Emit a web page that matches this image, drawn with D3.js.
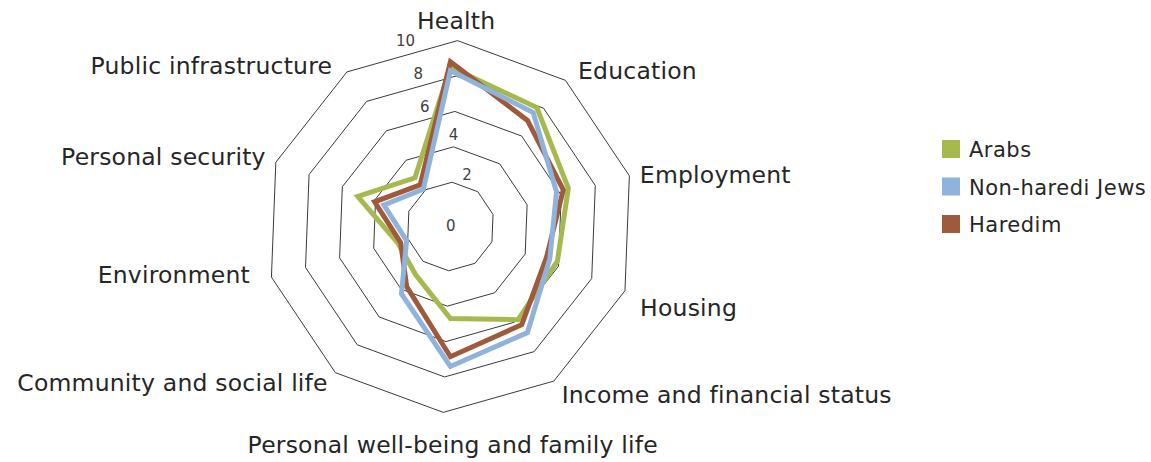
<!DOCTYPE html>
<html>
<head>
<meta charset="utf-8">
<script src="https://cdn.jsdelivr.net/npm/d3@7"></script>
<style>
  body { margin: 0; background: #fff; }
  text { font-family: "DejaVu Sans", "Noto Sans", sans-serif; fill: #262626; }
</style>
</head>
<body>
<script>
const categories = ["Health", "Education", "Employment", "Housing", "Income and financial status",
  "Personal well-being and family life", "Community and social life", "Environment",
  "Personal security", "Public infrastructure"]
const arabs =         [8.5, 7.8, 6.5, 5.85, 6.0, 4.7, 2.85, 2.6, 5.0, 2.9]
const nonHarediJews = [8.3, 7.45, 5.8, 5.4, 6.9, 7.4, 4.2, 2.1, 3.45, 2.1]
const haredim =       [8.8, 6.9, 6.2, 5.2, 6.35, 6.85, 3.7, 2.45, 4.0, 2.4]
const seriesNames = ["Arabs", "Non-haredi Jews", "Haredim"]
const ticks = [0, 2, 4, 6, 8, 10]

const colors = { "Arabs": "#a6b94f", "Non-haredi Jews": "#8fb3dc", "Haredim": "#9e5a3a" }

const width = 1151, height = 462
const cx = 450.4, cy = 226.5, R = 186
const gridTilt = 2.2 * Math.PI / 180

const svg = d3.select("body").append("svg")
  .attr("width", width).attr("height", height)

const g = svg.append("g").attr("transform", `translate(${cx},${cy})`)

const r = d3.scaleLinear().domain([-0.5, 10]).range([0, R])
const angle = d3.scaleLinear().domain([0, categories.length]).range([0, 2 * Math.PI])

// grid rings
const ring = d3.lineRadial()
  .angle((d, i) => angle(i) + gridTilt)
  .radius(d => r(d))
  .curve(d3.curveLinearClosed)

g.selectAll("path.grid")
  .data(ticks.filter(t => t > 0))
  .enter()
    .append("path")
    .attr("class", "grid")
    .attr("d", t => ring(categories.map(() => t)))
    .attr("fill", "none")
    .attr("stroke", "#3a3a3a")
    .attr("stroke-width", 1)

// tick labels (nudged like the original)
const tickNudge = [[0, 8], [15, -7], [0, -12], [-30, -4], [-38, -2], [-52, 0]]
g.selectAll("text.tick")
  .data(ticks)
  .enter()
    .append("text")
    .attr("class", "tick")
    .attr("x", (d, i) => r(d) * Math.sin(gridTilt) + tickNudge[i][0])
    .attr("y", (d, i) => -r(d) * Math.cos(gridTilt) + tickNudge[i][1])
    .attr("text-anchor", "middle")
    .attr("dominant-baseline", "central")
    .attr("font-size", 15)
    .style("fill", "#404040")
    .text(d => d)

// series
const line = d3.lineRadial()
  .angle((d, i) => angle(i))
  .radius(d => r(d))
  .curve(d3.curveLinearClosed)

const seriesData = { "Arabs": arabs, "Non-haredi Jews": nonHarediJews, "Haredim": haredim }
const drawOrder = ["Arabs", "Haredim", "Non-haredi Jews"]

g.selectAll("path.series")
  .data(drawOrder)
  .enter()
    .append("path")
    .attr("class", "series")
    .attr("d", s => line(seriesData[s]))
    .attr("fill", "none")
    .attr("stroke", s => colors[s])
    .attr("stroke-width", 5)
    .attr("stroke-linejoin", "miter")

// category labels
const labelR = 200
const labelNudge = [[-2, 1], [1, 2], [-6, 3], [-1, 12], [-3, 2], [10, 1], [3, -1], [-6, -6], [5, 0], [-5, 6]]
g.selectAll("text.cat")
  .data(categories)
  .enter()
    .append("text")
    .attr("class", "cat")
    .each(function (d, i) {
      const a = angle(i) + gridTilt
      const s = Math.sin(a), c = Math.cos(a)
      let x = labelR * s, y = -labelR * c
      let anchor = "middle"
      if (c > 0.9) y -= 7
      else if (c < -0.9) y += 18
      else anchor = s > 0 ? "start" : "end"
      if (anchor === "start") x += 3
      if (anchor === "end") x -= 2
      d3.select(this)
        .attr("x", x + labelNudge[i][0]).attr("y", y + labelNudge[i][1])
        .attr("text-anchor", anchor)
        .attr("dominant-baseline", "central")
    })
    .attr("font-size", 23.5)
    .attr("letter-spacing", 0.2)
    .text(d => d)

// legend
const legend = svg.append("g").attr("transform", "translate(942,140)")
const item = legend.selectAll("g.item")
  .data(seriesNames)
  .enter()
    .append("g")
    .attr("class", "item")
    .attr("transform", (d, i) => `translate(0,${i * 37.5})`)

item.append("rect")
  .attr("width", 18).attr("height", 18)
  .attr("fill", d => colors[d])

item.append("text")
  .attr("x", 27).attr("y", 10)
  .attr("dominant-baseline", "central")
  .attr("font-size", 21)
  .attr("letter-spacing", 0.5)
  .text(d => d)
</script>
</body>
</html>
